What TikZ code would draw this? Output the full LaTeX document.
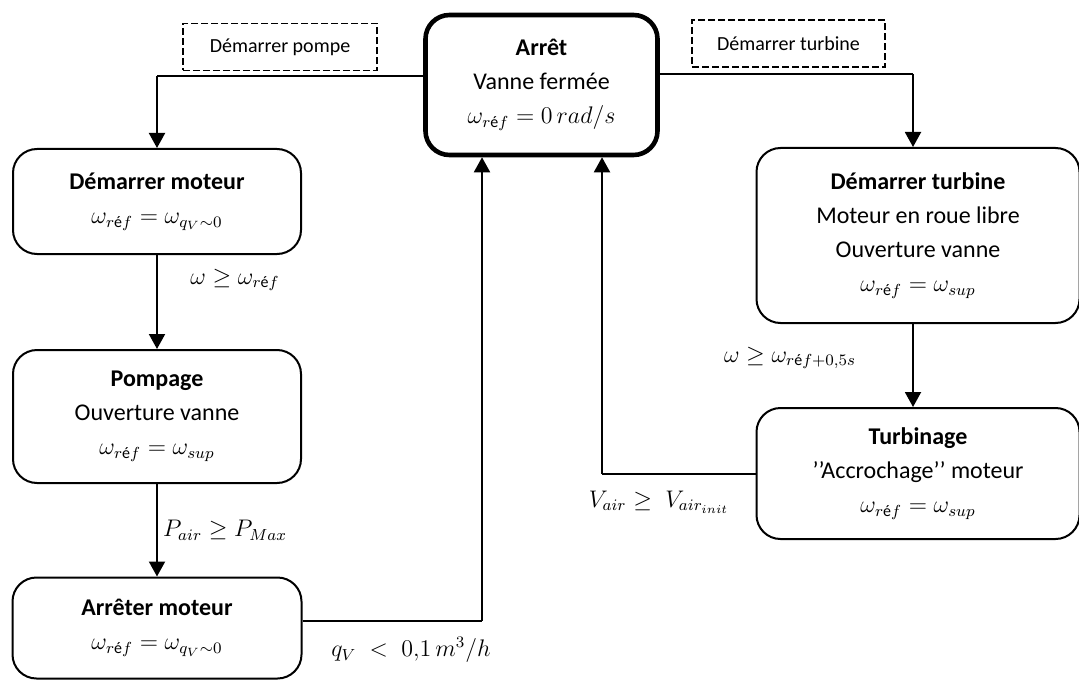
\documentclass[tikz,border=0pt]{standalone}
\usepackage{amsmath}
\usepackage{fontspec}
\setmainfont{Carlito}
\usetikzlibrary{arrows.meta,calc}

\newcommand{\wref}{\omega_{r\text{é}f}}

\begin{document}
\begin{tikzpicture}[x=0.5pt,y=-0.5pt,
  etat/.style={draw,line width=1pt,rounded corners=12pt,align=center,
    font=\fontsize{12}{17}\selectfont,inner sep=0pt},
  etatfort/.style={etat,line width=2.3pt},
  evt/.style={draw,line width=0.6pt,dash pattern=on 3.5pt off 1.5pt,
    font=\fontsize{10}{12}\selectfont,minimum height=23.5pt},
  cond/.style={font=\fontsize{12}{14}\selectfont},
  fleche/.style={line width=1pt,-{Triangle[width=8pt,length=7.5pt]}},
  lien/.style={line width=1pt}]
\useasboundingbox (0,0) rectangle (1079,679);

\node[etatfort,minimum width=116pt,minimum height=70pt] (arret) at (541.5,85)
  {\textbf{Arrêt}\\ Vanne fermée\\ $\wref = 0\,rad/s$};

\node[evt,minimum width=97pt] (evpompe) at (280,47) {Démarrer pompe};
\node[evt,minimum width=96.5pt] (evturb) at (788.5,43.5) {Démarrer turbine};

\node[etat,minimum width=144pt,minimum height=52.5pt] (dmoteur) at (157,201.5)
  {\textbf{Démarrer moteur}\\ $\wref = \omega_{q_V\sim 0}$};
\node[etat,minimum width=144pt,minimum height=66.5pt] (pompage) at (157,416.5)
  {\textbf{Pompage}\\ Ouverture vanne\\ $\wref = \omega_{sup}$};
\node[etat,minimum width=144.5pt,minimum height=50.5pt] (amoteur) at (157,628)
  {\textbf{Arrêter moteur}\\ $\wref = \omega_{q_V\sim 0}$};

\node[etat,minimum width=161.5pt,minimum height=87.5pt] (dturb) at (918,235.5)
  {\textbf{Démarrer turbine}\\ Moteur en roue libre\\ Ouverture vanne\\ $\wref = \omega_{sup}$};
\node[etat,minimum width=161.5pt,minimum height=65.5pt] (turbinage) at (918,473.5)
  {\textbf{Turbinage}\\ ’’Accrochage’’ moteur\\ $\wref = \omega_{sup}$};

\coordinate (gauche) at (157,76);
\coordinate (droite) at (913,74);
\coordinate (retour1) at (482,621);
\coordinate (retour2) at (602,473.5);

\draw[lien] (arret.west |- gauche) -- (gauche);
\draw[fleche] (gauche) -- (gauche |- dmoteur.north);
\draw[lien] (arret.east |- droite) -- (droite);
\draw[fleche] (droite) -- (droite |- dturb.north);

\draw[fleche] (dmoteur.south) -- (pompage.north);
\draw[fleche] (pompage.south) -- (amoteur.north);
\draw[fleche] (droite |- dturb.south) -- (droite |- turbinage.north);

\draw[lien] (amoteur.east |- retour1) -- (retour1);
\draw[fleche] (retour1) -- (retour1 |- arret.south);
\draw[lien] (turbinage.west) -- (retour2);
\draw[fleche] (retour2) -- (retour2 |- arret.south);

\node[cond] (c1) at (235,280) {$\omega \geq \wref$};
\node[cond] (c2) at (225,530) {$P_{air} \geq P_{Max}$};
\node[cond] (c3) at (411,650) {$q_V\;<\;0{,}1\,m^3/h$};
\node[cond] (c4) at (790,358) {$\omega \geq \omega_{r\text{é}f+0{,}5s}$};
\node[cond] (c5) at (659,502) {$V_{air} \geq\; V_{air_{init}}$};

\end{tikzpicture}
\end{document}
